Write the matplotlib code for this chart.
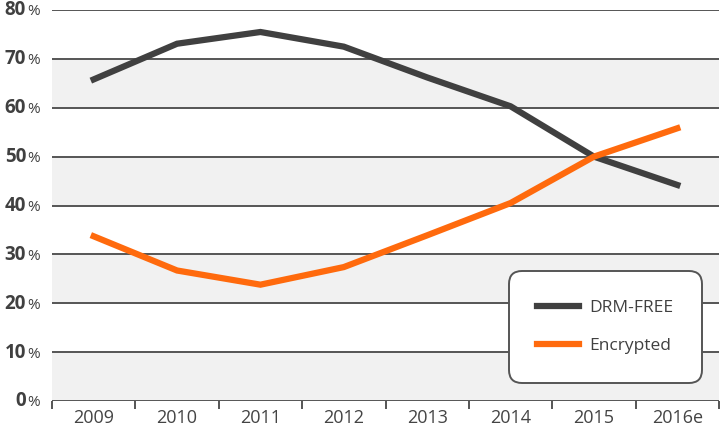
import matplotlib
matplotlib.use("Agg")
import matplotlib.pyplot as plt
import matplotlib.transforms as mtransforms

years = ["2009", "2010", "2011", "2012", "2013", "2014", "2015", "2016e"]
drm_free = [65.8, 73.1, 75.5, 72.5, 66.2, 60.3, 50.0, 44.2]
encrypted = [33.7, 26.7, 23.8, 27.4, 33.9, 40.5, 50.0, 55.8]
y_ticks = [0, 10, 20, 30, 40, 50, 60, 70, 80]

plt.rcParams['font.family'] = ['Open Sans', 'DejaVu Sans']

fig = plt.figure(figsize=(7.21, 4.32), dpi=100)
ax = fig.add_axes([52 / 721, 1 - 401 / 432, 667 / 721, 391 / 432])

n = len(years)
x = [i + 0.5 for i in range(n)]

# alternating bands
for lo in range(0, 80, 20):
    ax.axhspan(lo, lo + 10, color='#f1f1f1', zorder=0, lw=0)
for v in y_ticks:
    ax.axhline(v, color='#555555', lw=1.4, zorder=1)

ax.plot(x, drm_free, color='#404040', lw=4.5, label='DRM-FREE', zorder=3,
        solid_joinstyle='miter')
ax.plot(x, encrypted, color='#ff6a0d', lw=4.5, label='Encrypted', zorder=3,
        solid_joinstyle='miter')

ax.set_xlim(0, n)
ax.set_ylim(0, 80)
for s in ax.spines.values():
    s.set_visible(False)

ax.set_xticks(range(n + 1))
ax.set_xticklabels([])
ax.set_xticks(x, minor=True)
ax.set_xticklabels(years, minor=True, fontsize=13, color='#444444')
ax.tick_params(axis='x', which='major', length=6, width=1.4, color='#555555')
ax.tick_params(axis='x', which='minor', length=0, pad=6)
ax.set_yticks([])

# y labels: bold number + small percent sign
blend = mtransforms.blended_transform_factory(fig.transFigure, ax.transData)
for v in y_ticks:
    ax.text(26 / 721, v - 1.1, str(v), transform=blend, ha='right', va='baseline',
            fontsize=13.5, fontweight='bold', color='#404040')
    ax.text(27 / 721, v - 1.1, '%', transform=blend, ha='left', va='baseline',
            fontsize=11, color='#404040')

leg = ax.legend(loc='lower right', bbox_to_anchor=(702 / 721, 1 - 383 / 432),
                bbox_transform=fig.transFigure, fontsize=12.5, frameon=True,
                fancybox=True, handlelength=2.4, handletextpad=0.6,
                labelspacing=1.3, borderpad=1.65, borderaxespad=0)
frame = leg.get_frame()
frame.set_boxstyle('round,pad=0,rounding_size=0.75')
frame.set_edgecolor('#555555')
frame.set_linewidth(1.4)
frame.set_facecolor('white')
frame.set_alpha(1)
for t in leg.get_texts():
    t.set_color('#404040')

fig.savefig('out.png', dpi=100)
